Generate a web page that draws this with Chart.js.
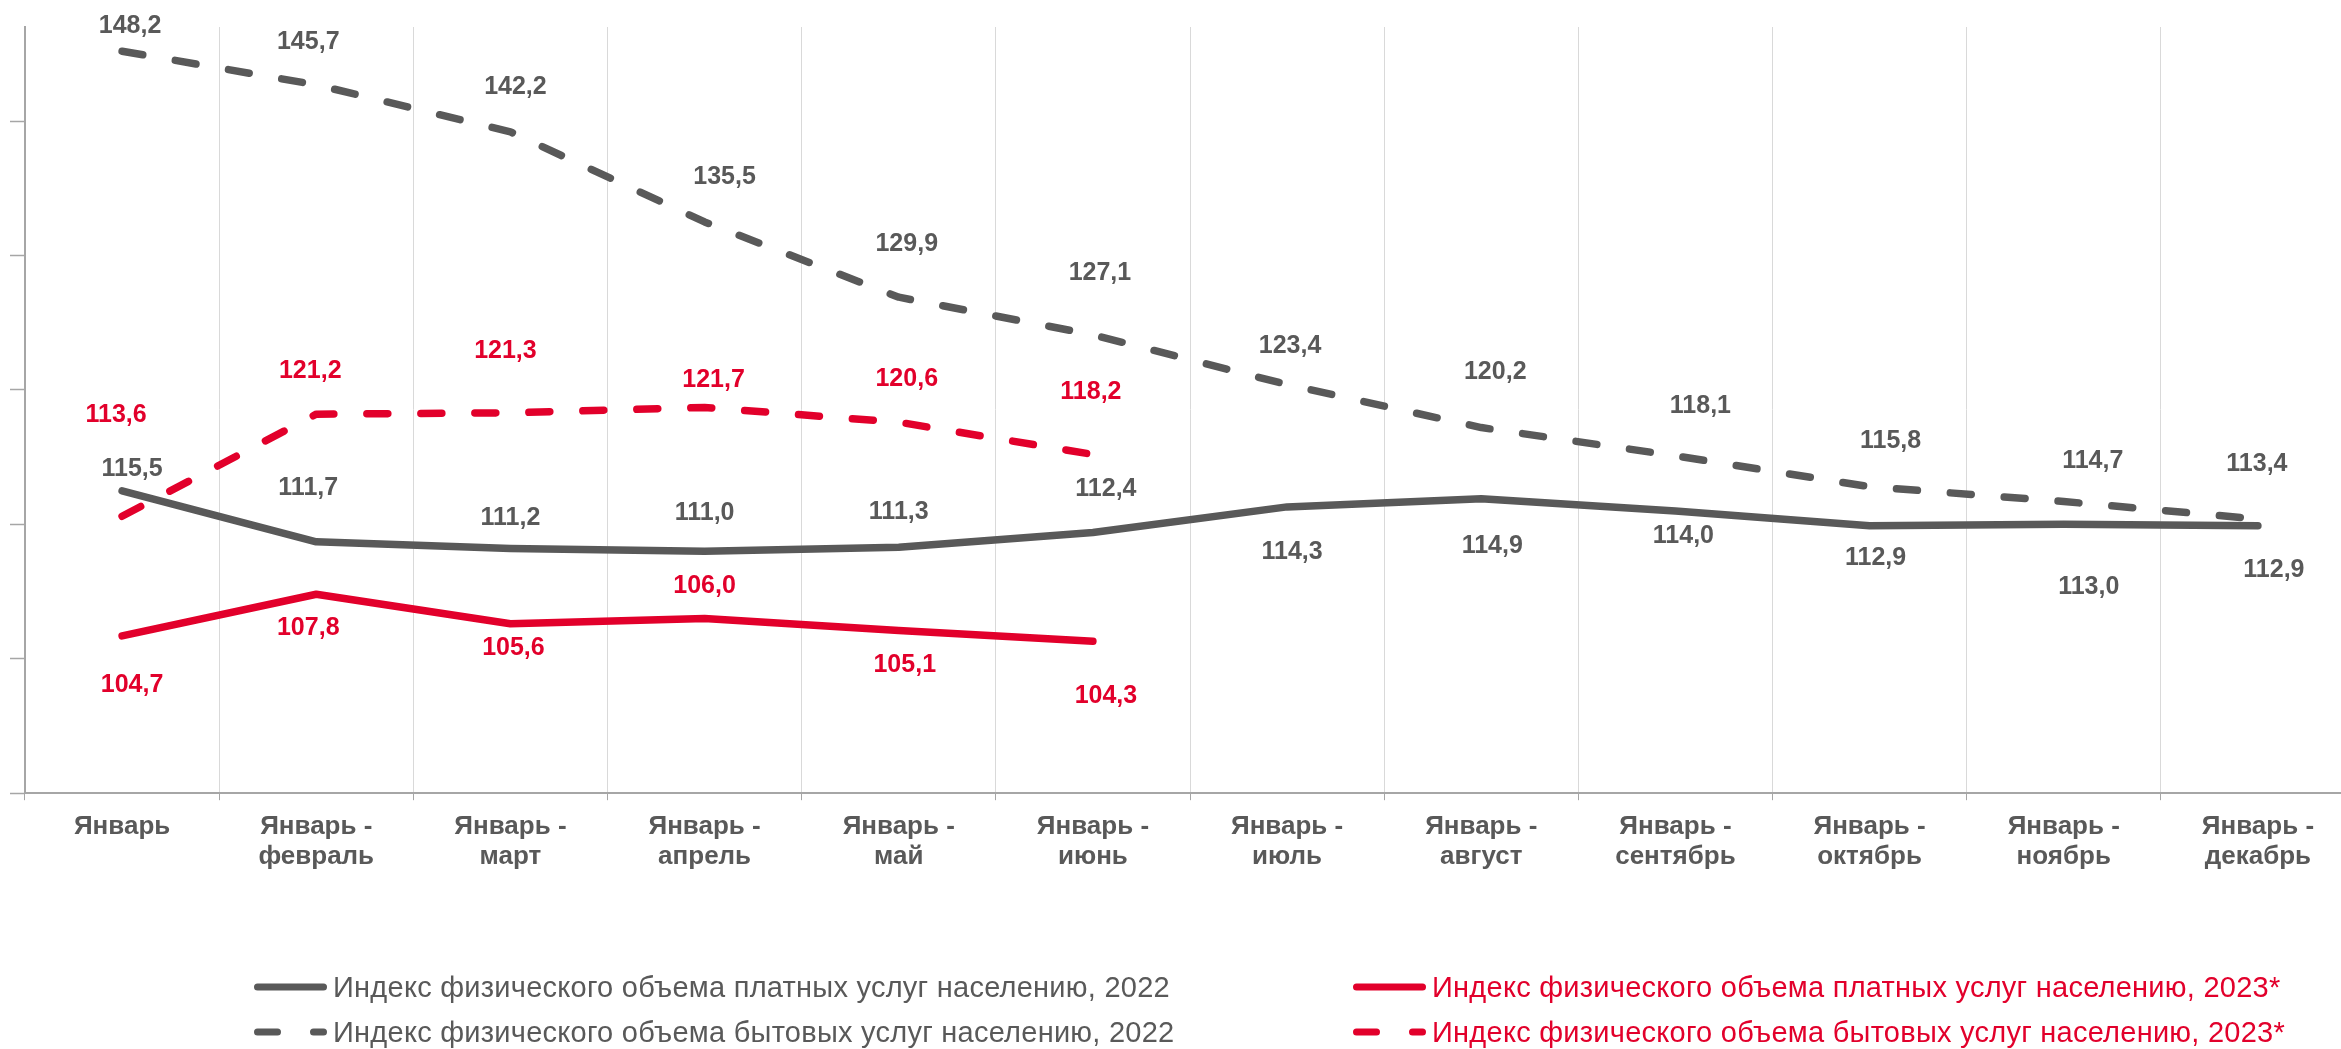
<!DOCTYPE html>
<html>
<head>
<meta charset="utf-8">
<script src="https://cdn.jsdelivr.net/npm/chart.js@4.4.1/dist/chart.umd.min.js"></script>
<style>
  html, body { margin: 0; padding: 0; background: #ffffff; overflow: hidden; width: 2341px; height: 1049px; }
  #wrap { position: absolute; left: 0; top: 0; width: 2370px; height: 1049px; }
  #legend { position: absolute; left: 0; top: 0; width: 2341px; height: 1049px; pointer-events: none;
            font-family: "Liberation Sans", Arial, sans-serif; font-size: 29px; letter-spacing: 0.25px; }
  .item { position: absolute; display: flex; align-items: center; height: 40px; white-space: nowrap; }
  .item svg { display: block; margin-right: 6px; flex: none; }
</style>
</head>
<body>
<div id="wrap"><canvas id="c" width="2370" height="1049"></canvas></div>
<div id="legend"></div>
<script>
// ---------------- DATA ----------------
const categories = [
  ['Январь'],
  ['Январь -', 'февраль'],
  ['Январь -', 'март'],
  ['Январь -', 'апрель'],
  ['Январь -', 'май'],
  ['Январь -', 'июнь'],
  ['Январь -', 'июль'],
  ['Январь -', 'август'],
  ['Январь -', 'сентябрь'],
  ['Январь -', 'октябрь'],
  ['Январь -', 'ноябрь'],
  ['Январь -', 'декабрь']
];
const paid2022      = [115.5, 111.7, 111.2, 111.0, 111.3, 112.4, 114.3, 114.9, 114.0, 112.9, 113.0, 112.9];
const household2022 = [148.2, 145.7, 142.2, 135.5, 129.9, 127.1, 123.4, 120.2, 118.1, 115.8, 114.7, 113.4];
const paid2023      = [104.7, 107.8, 105.6, 106.0, 105.1, 104.3, null, null, null, null, null, null];
const household2023 = [113.6, 121.2, 121.3, 121.7, 120.6, 118.2, null, null, null, null, null, null];
const yTickValues   = [93, 103, 113, 123, 133, 143];
const seriesNames = [
  'Индекс физического объема платных услуг населению, 2022',
  'Индекс физического объема бытовых услуг населению, 2022',
  'Индекс физического объема платных услуг населению, 2023*',
  'Индекс физического объема бытовых услуг населению, 2023*'
];

// ---------------- STYLE / LAYOUT ----------------
const GRAY = '#595959';
const RED = '#E2002B';
const FONT = '"Liberation Sans", Arial, sans-serif';
const DASH = [21, 33];

// label offsets (dx, dy in px) relative to each point
const labelOffsets = {
  paid2022:      [[10,-22],[-8,-54],[0,-30],[0,-38],[0,-35],[13,-43],[5,45],[11,47],[8,25],[6,32],[25,63],[16,44]],
  household2022: [[8,-25],[-8,-43],[5,-45],[20,-45],[8,-53],[7,-62],[3,-38],[14,-55],[25,-50],[21,-46],[29,-40],[-1,-55]],
  paid2023:      [[10,49],[-8,34],[3,24],[0,-32],[6,35],[13,55]],
  household2023: [[-6,-101],[-6,-43],[-5,-62],[9,-27],[8,-43],[-2,-62]]
};

const datasets = [
  { key: 'paid2022', label: seriesNames[0], data: paid2022, borderColor: GRAY, backgroundColor: GRAY, borderDash: [] },
  { key: 'household2022', label: seriesNames[1], data: household2022, borderColor: GRAY, backgroundColor: GRAY, borderDash: DASH },
  { key: 'paid2023', label: seriesNames[2], data: paid2023, borderColor: RED, backgroundColor: RED, borderDash: [] },
  { key: 'household2023', label: seriesNames[3], data: household2023, borderColor: RED, backgroundColor: RED, borderDash: DASH }
].map(d => Object.assign(d, {
  borderWidth: 7.5, pointRadius: 0, pointHoverRadius: 0, tension: 0, fill: false,
  borderCapStyle: 'round', borderJoinStyle: 'round', spanGaps: false
}));

const fmt = v => v.toFixed(1).replace('.', ',');

const valueLabels = {
  id: 'valueLabels',
  afterDatasetsDraw(chart) {
    const ctx = chart.ctx;
    chart.data.datasets.forEach((ds, di) => {
      const meta = chart.getDatasetMeta(di);
      meta.data.forEach((pt, i) => {
        const v = ds.data[i];
        if (v === null || v === undefined) return;
        const off = labelOffsets[ds.key][i] || [0, -40];
        ctx.save();
        ctx.font = 'bold 25px ' + FONT;
        ctx.fillStyle = ds.borderColor;
        ctx.textAlign = 'center';
        ctx.textBaseline = 'middle';
        ctx.fillText(fmt(v), pt.x + off[0], pt.y + off[1]);
        ctx.restore();
      });
    });
  }
};

new Chart(document.getElementById('c'), {
  type: 'line',
  data: { labels: categories, datasets: datasets },
  options: {
    responsive: false,
    animation: false,
    devicePixelRatio: 1,
    layout: { padding: { left: 10, right: 15, top: 27, bottom: 165 } },
    plugins: { legend: { display: false }, tooltip: { enabled: false } },
    scales: {
      x: {
        type: 'category',
        offset: true,
        grid: { offset: true, color: '#D9D9D9', lineWidth: 1, drawTicks: true, tickLength: 7, tickColor: '#A6A6A6', tickWidth: 1 },
        border: { color: '#A6A6A6', width: 2 },
        ticks: { color: GRAY, font: { family: FONT, size: 26, weight: 'bold', lineHeight: 1.15 }, padding: 12, maxRotation: 0, minRotation: 0, autoSkip: false }
      },
      y: {
        min: 93,
        max: 150,
        afterBuildTicks: scale => { scale.ticks = yTickValues.map(v => ({ value: v })); },
        grid: { drawOnChartArea: false, drawTicks: true, tickLength: 15, tickColor: '#A6A6A6', tickWidth: 1.5 },
        border: { color: '#A6A6A6', width: 2 },
        ticks: { display: false }
      }
    }
  },
  plugins: [valueLabels]
});

// ---------------- LEGEND (HTML, built from datasets) ----------------
const legendPos = [ [254, 967], [254, 1012], [1353, 967], [1353, 1012] ];
const legendOrder = [0, 1, 2, 3];
const legendEl = document.getElementById('legend');
legendOrder.forEach((di, k) => {
  const ds = datasets[di];
  const item = document.createElement('div');
  item.className = 'item';
  item.style.left = legendPos[k][0] + 'px';
  item.style.top = legendPos[k][1] + 'px';
  item.style.color = ds.borderColor;
  const dash = ds.borderDash.length ? 'stroke-dasharray="20 36"' : '';
  item.innerHTML = '<svg width="73" height="12"><line x1="3.5" y1="6" x2="69.5" y2="6" stroke="' + ds.borderColor +
    '" stroke-width="7" stroke-linecap="round" ' + dash + '/></svg>';
  const span = document.createElement('span');
  span.textContent = ds.label;
  item.appendChild(span);
  legendEl.appendChild(item);
});
</script>
</body>
</html>
